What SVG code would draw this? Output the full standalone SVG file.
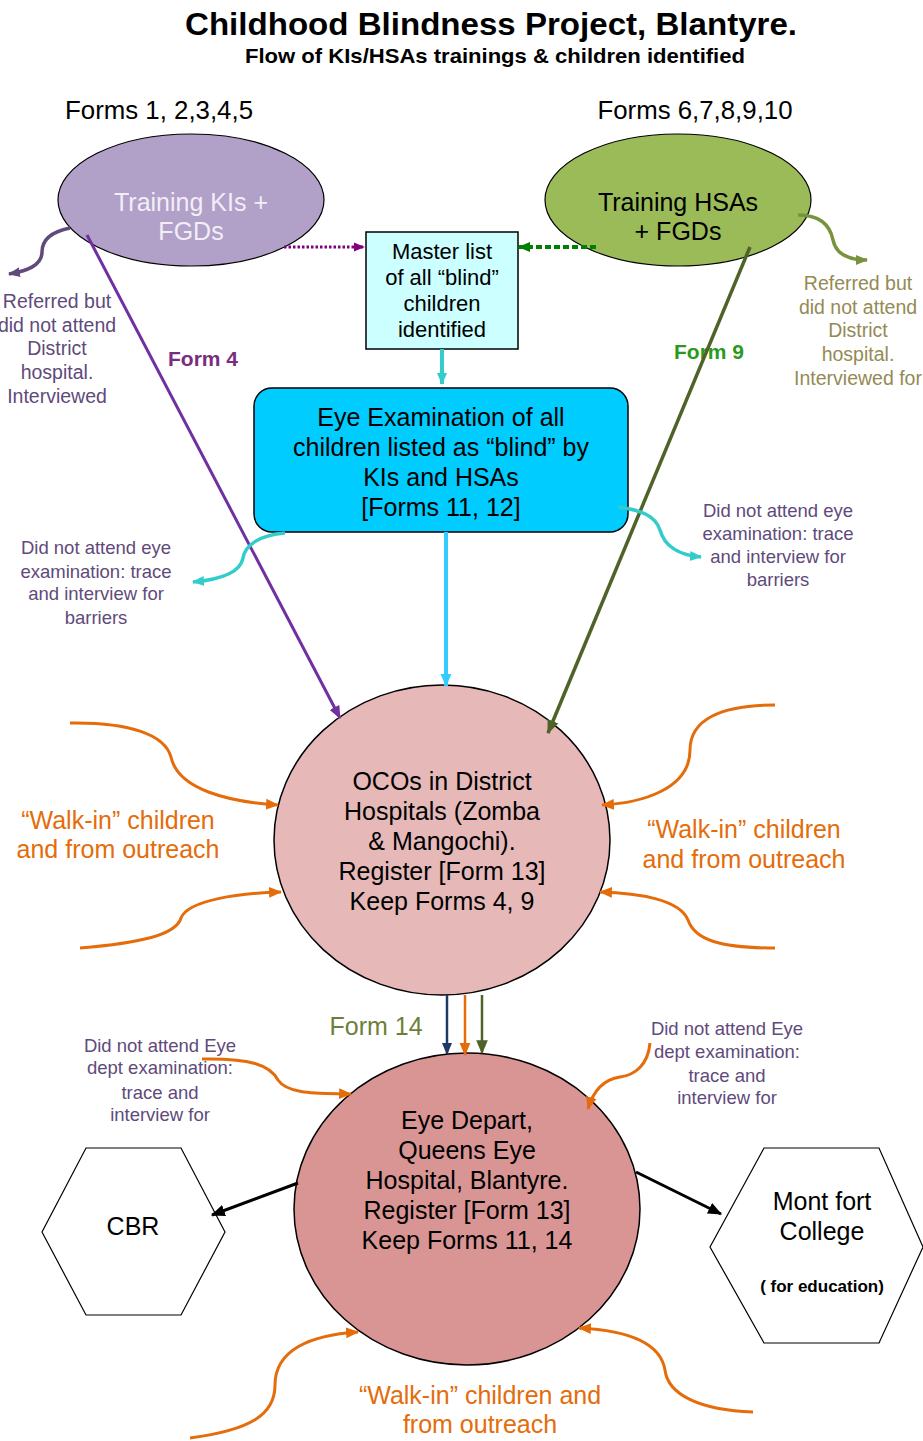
<svg xmlns="http://www.w3.org/2000/svg" width="923" height="1441" viewBox="0 0 923 1441">
<style>
text{font-family:"Liberation Sans",Arial,sans-serif;text-anchor:middle}
.big{font-size:25px;fill:#000}
.sm{font-size:18.5px;fill:#604A7B}
.walk{font-size:25px;fill:#E46C0A}
.ol{stroke:#000;stroke-width:1.2}
.w{fill:none;stroke:#E46C0A;stroke-width:3}
</style>
<defs>
<marker id="aP" markerUnits="userSpaceOnUse" viewBox="0 0 12 10" refX="11" refY="5" markerWidth="13" markerHeight="11" orient="auto"><path d="M0,0L12,5L0,10z" fill="#7030A0"/></marker>
<marker id="aPd" markerUnits="userSpaceOnUse" viewBox="0 0 12 10" refX="11" refY="5" markerWidth="12" markerHeight="10" orient="auto"><path d="M0,0L12,5L0,10z" fill="#604A7B"/></marker>
<marker id="aM" markerUnits="userSpaceOnUse" viewBox="0 0 12 10" refX="11" refY="5" markerWidth="11" markerHeight="11" orient="auto"><path d="M0,0L12,5L0,10z" fill="#800080"/></marker>
<marker id="aG" markerUnits="userSpaceOnUse" viewBox="0 0 12 10" refX="11" refY="5" markerWidth="12" markerHeight="12" orient="auto"><path d="M0,0L12,5L0,10z" fill="#008000"/></marker>
<marker id="aO" markerUnits="userSpaceOnUse" viewBox="0 0 12 10" refX="11" refY="5" markerWidth="14" markerHeight="12" orient="auto"><path d="M0,0L12,5L0,10z" fill="#4F6228"/></marker>
<marker id="aL" markerUnits="userSpaceOnUse" viewBox="0 0 12 10" refX="11" refY="5" markerWidth="12" markerHeight="10" orient="auto"><path d="M0,0L12,5L0,10z" fill="#77933C"/></marker>
<marker id="aT" markerUnits="userSpaceOnUse" viewBox="0 0 12 10" refX="11" refY="5" markerWidth="12" markerHeight="12" orient="auto"><path d="M0,0L12,5L0,10z" fill="#33CCCC"/></marker>
<marker id="aC" markerUnits="userSpaceOnUse" viewBox="0 0 12 10" refX="11" refY="5" markerWidth="13" markerHeight="13" orient="auto"><path d="M0,0L12,5L0,10z" fill="#33CCFF"/></marker>
<marker id="aOr" markerUnits="userSpaceOnUse" viewBox="0 0 12 10" refX="11" refY="5" markerWidth="13" markerHeight="12" orient="auto"><path d="M0,0L12,5L0,10z" fill="#E46C0A"/></marker>
<marker id="aB" markerUnits="userSpaceOnUse" viewBox="0 0 12 10" refX="11" refY="5" markerWidth="12" markerHeight="11" orient="auto"><path d="M0,0L12,5L0,10z" fill="#1F3864"/></marker>
<marker id="aK" markerUnits="userSpaceOnUse" viewBox="0 0 12 10" refX="11" refY="5" markerWidth="14" markerHeight="12" orient="auto"><path d="M0,0L12,5L0,10z" fill="#000"/></marker>
</defs>
<rect width="923" height="1441" fill="#fff"/>

<g id="titles">
<text x="491" y="35" style="font-size:32px;font-weight:bold" textLength="612" lengthAdjust="spacingAndGlyphs">Childhood Blindness Project, Blantyre.</text>
<text x="495" y="63" style="font-size:21px;font-weight:bold" textLength="500" lengthAdjust="spacingAndGlyphs">Flow of KIs/HSAs trainings &amp; children identified</text>
<text x="159" y="119" class="big" textLength="188" lengthAdjust="spacingAndGlyphs">Forms 1, 2,3,4,5</text>
<text x="695" y="119" class="big" textLength="195" lengthAdjust="spacingAndGlyphs">Forms 6,7,8,9,10</text>
</g>

<g id="trainKI">
<ellipse cx="191" cy="200" rx="133" ry="66" fill="#B1A0C7" class="ol"/>
<text x="191" y="211" class="big" style="fill:#F2EEF7">Training KIs +</text>
<text x="191" y="240" class="big" style="fill:#F2EEF7">FGDs</text>
</g>

<g id="trainHSA">
<ellipse cx="678" cy="200" rx="133" ry="66" fill="#9BBB59" class="ol"/>
<text x="678" y="211" class="big">Training HSAs</text>
<text x="678" y="240" class="big">+ FGDs</text>
</g>

<g id="masterList">
<rect x="366" y="232" width="152" height="117" fill="#CCFFFF" stroke="#000" stroke-width="1.5"/>
<text x="442" y="259" style="font-size:22px">Master list</text>
<text x="442" y="285" style="font-size:22px">of all “blind”</text>
<text x="442" y="311" style="font-size:22px">children</text>
<text x="442" y="337" style="font-size:22px">identified</text>
</g>

<g id="eyeExam">
<rect x="254" y="388" width="374" height="144" rx="18" fill="#00CCFF" stroke="#000" stroke-width="1.5"/>
<text x="441" y="426" class="big">Eye Examination of all</text>
<text x="441" y="456" class="big">children listed as “blind” by</text>
<text x="441" y="486" class="big">KIs and HSAs</text>
<text x="441" y="516" class="big">[Forms 11, 12]</text>
</g>

<g id="referredLeft">
<text x="57" y="308" style="font-size:19.5px;fill:#604A7B">Referred but</text>
<text x="57" y="332" style="font-size:19.5px;fill:#604A7B">did not attend</text>
<text x="57" y="355" style="font-size:19.5px;fill:#604A7B">District</text>
<text x="57" y="379" style="font-size:19.5px;fill:#604A7B">hospital.</text>
<text x="57" y="403" style="font-size:19.5px;fill:#604A7B">Interviewed</text>
</g>

<g id="referredRight">
<text x="858" y="290" style="font-size:19.5px;fill:#948A54">Referred but</text>
<text x="858" y="314" style="font-size:19.5px;fill:#948A54">did not attend</text>
<text x="858" y="337" style="font-size:19.5px;fill:#948A54">District</text>
<text x="858" y="361" style="font-size:19.5px;fill:#948A54">hospital.</text>
<text x="858" y="385" style="font-size:19.5px;fill:#948A54">Interviewed for</text>
</g>

<g id="noExamLeft">
<text x="96" y="554" class="sm">Did not attend eye</text>
<text x="96" y="578" class="sm">examination: trace</text>
<text x="96" y="600" class="sm">and interview for</text>
<text x="96" y="624" class="sm">barriers</text>
</g>

<g id="noExamRight">
<text x="778" y="517" class="sm">Did not attend eye</text>
<text x="778" y="540" class="sm">examination: trace</text>
<text x="778" y="563" class="sm">and interview for</text>
<text x="778" y="586" class="sm">barriers</text>
</g>

<g id="oco">
<ellipse cx="442" cy="840" rx="168" ry="155" fill="#E6B9B8" stroke="#000" stroke-width="1.5"/>
<text x="442" y="790" class="big">OCOs in District</text>
<text x="442" y="820" class="big">Hospitals (Zomba</text>
<text x="442" y="850" class="big">&amp; Mangochi).</text>
<text x="442" y="880" class="big">Register [Form 13]</text>
<text x="442" y="910" class="big">Keep Forms 4, 9</text>
</g>

<g id="walkinLeft">
<text x="118" y="829" class="walk">“Walk-in” children</text>
<text x="118" y="858" class="walk">and from outreach</text>
</g>

<g id="walkinRight">
<text x="744" y="838" class="walk">“Walk-in” children</text>
<text x="744" y="868" class="walk">and from outreach</text>
</g>

<g id="noDeptLeft">
<text x="160" y="1052" class="sm">Did not attend Eye</text>
<text x="160" y="1074" class="sm">dept examination:</text>
<text x="160" y="1099" class="sm">trace and</text>
<text x="160" y="1121" class="sm">interview for</text>
</g>

<g id="noDeptRight">
<text x="727" y="1035" class="sm">Did not attend Eye</text>
<text x="727" y="1058" class="sm">dept examination:</text>
<text x="727" y="1082" class="sm">trace and</text>
<text x="727" y="1104" class="sm">interview for</text>
</g>

<g id="eyeDept">
<ellipse cx="467" cy="1209" rx="173" ry="156" fill="#D99594" stroke="#000" stroke-width="1.5"/>
<text x="467" y="1129" class="big">Eye Depart,</text>
<text x="467" y="1159" class="big">Queens Eye</text>
<text x="467" y="1189" class="big">Hospital, Blantyre.</text>
<text x="467" y="1219" class="big">Register [Form 13]</text>
<text x="467" y="1249" class="big">Keep Forms 11, 14</text>
</g>

<g id="cbr">
<polygon points="86,1148 181,1148 225,1232 181,1315 86,1315 42,1232" fill="#fff" stroke="#000" stroke-width="1.2"/>
<text x="133" y="1235" class="big">CBR</text>
</g>

<g id="montfort">
<polygon points="764,1148 879,1148 923,1247 879,1343 764,1343 710,1247" fill="#fff" stroke="#000" stroke-width="1.2"/>
<text x="822" y="1210" class="big">Mont fort</text>
<text x="822" y="1240" class="big">College</text>
<text x="822" y="1292" style="font-size:17px;font-weight:bold">( for education)</text>
</g>

<g id="walkinBottom">
<text x="480" y="1404" class="walk">“Walk-in” children and</text>
<text x="480" y="1433" class="walk">from outreach</text>
</g>

<g id="connectors">
<text x="203" y="366" style="font-size:21px;font-weight:bold;fill:#7B2C80">Form 4</text>
<text x="709" y="359" style="font-size:21px;font-weight:bold;fill:#2A9A1E">Form 9</text>
<text x="376" y="1035" style="font-size:25px;fill:#6E7F3A">Form 14</text>
<path d="M284,247H364" stroke="#800080" stroke-width="3" stroke-dasharray="2.5,2" fill="none" marker-end="url(#aM)"/>
<path d="M596,247H519" stroke="#008000" stroke-width="4" stroke-dasharray="6,3" fill="none" marker-end="url(#aG)"/>
<path d="M442,349V384" stroke="#33CCCC" stroke-width="4" fill="none" marker-end="url(#aT)"/>
<path d="M446,532V686" stroke="#33CCFF" stroke-width="4" fill="none" marker-end="url(#aC)"/>
<path d="M87,235L340,718" stroke="#7030A0" stroke-width="3" fill="none" marker-end="url(#aP)"/>
<path d="M750,247L548,733" stroke="#4F6228" stroke-width="3.5" fill="none" marker-end="url(#aO)"/>
<path d="M70,228C50,232 42,240 42,252C42,266 26,271 9,274" stroke="#604A7B" stroke-width="3.5" fill="none" marker-end="url(#aPd)"/>
<path d="M798,215C820,215 830,225 833,240C836,255 850,260 867,260" stroke="#77933C" stroke-width="3.5" fill="none" marker-end="url(#aL)"/>
<path d="M285,533C260,535 245,545 243,558C240,575 215,580 193,582" stroke="#33CCCC" stroke-width="3.5" fill="none" marker-end="url(#aT)"/>
<path d="M618,507C640,510 655,515 660,530C665,548 680,555 701,557" stroke="#33CCCC" stroke-width="3.5" fill="none" marker-end="url(#aT)"/>
<path class="w" d="M70,723C130,722 165,735 171,757C178,790 230,802 278,805" marker-end="url(#aOr)"/>
<path class="w" d="M80,948C140,943 176,935 181,918C188,900 240,893 281,892" marker-end="url(#aOr)"/>
<path class="w" d="M775,705C720,705 690,720 690,750C690,790 640,803 602,805" marker-end="url(#aOr)"/>
<path class="w" d="M775,948C720,948 695,940 688,920C680,900 640,893 600,892" marker-end="url(#aOr)"/>
<path d="M447,995V1054" stroke="#1F3864" stroke-width="2.5" fill="none" marker-end="url(#aB)"/>
<path d="M465,995V1055" stroke="#E46C0A" stroke-width="2.5" fill="none" marker-end="url(#aOr)"/>
<path d="M482,995V1053" stroke="#4F6228" stroke-width="2.5" fill="none" marker-end="url(#aO)"/>
<path class="w" d="M202,1059C250,1058 270,1065 278,1080C288,1095 320,1093 351,1094" marker-end="url(#aOr)"/>
<path class="w" d="M650,1043C648,1065 635,1075 620,1077C600,1080 592,1095 588,1109" marker-end="url(#aOr)"/>
<path class="w" d="M190,1438C250,1430 275,1415 275,1385C275,1350 310,1335 358,1332" marker-end="url(#aOr)"/>
<path class="w" d="M753,1412C700,1410 668,1395 665,1370C660,1340 620,1330 579,1328" marker-end="url(#aOr)"/>
<path d="M298,1183L212,1215" stroke="#000" stroke-width="3" fill="none" marker-end="url(#aK)"/>
<path d="M636,1172L721,1214" stroke="#000" stroke-width="3" fill="none" marker-end="url(#aK)"/>
</g>
</svg>
